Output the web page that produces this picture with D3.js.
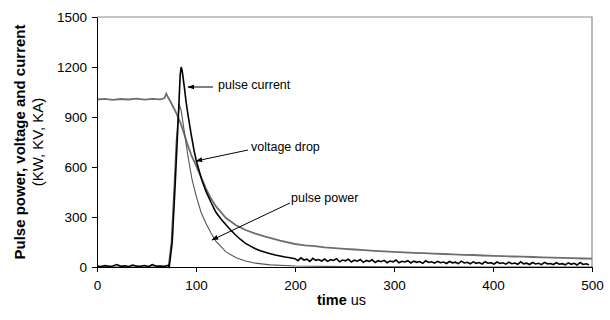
<!DOCTYPE html>
<html>
<head>
<meta charset="utf-8">
<script src="https://cdn.jsdelivr.net/npm/d3@7"></script>
<style>
  body { margin: 0; background: #fff; }
  svg { font-family: "Liberation Sans", Arial, sans-serif; }
  .axis path, .axis line { stroke: #000; }
  .axis text { font-size: 13.5px; fill: #000; font-family: "Liberation Sans", Arial, sans-serif; }
  .note { font-size: 12.5px; fill: #000; }
</style>
</head>
<body>
<svg id="chart" width="610" height="320"></svg>
<script>
// time (us) and values
var xTicks = [0, 100, 200, 300, 400, 500];
var yTicks = [0, 300, 600, 900, 1200, 1500];

var voltageT = [0, 8, 16, 24, 32, 40, 48, 56, 64, 68, 70, 72, 74, 77, 80, 84, 88, 92, 96, 100, 105, 110, 115, 120, 130, 140, 150, 160, 170, 185,
  200, 210, 220, 230, 240, 250, 260, 270, 280, 290, 300, 310, 320, 330, 340, 350, 360, 370, 380, 390, 400, 410, 420, 430, 440, 450, 460, 470, 480, 490, 500];
var voltageV = [1005, 1009, 1003, 1008, 1005, 1010, 1004, 1009, 1006, 1012, 1040, 1015, 995, 960, 925, 870, 800, 725, 660, 610, 540, 472, 412, 365, 295, 252, 222, 200, 182, 158,
  138, 130, 125, 118, 113, 109, 105, 101, 97, 94, 91, 88, 85, 83, 80, 78, 76, 73, 72, 69, 67, 65, 63, 62, 60, 58, 56, 55, 53, 51, 50];

var currentT = [0, 4, 8, 12, 16, 20, 24, 28, 32, 36, 40, 44, 48, 52, 56, 60, 64, 68, 72, 73, 76, 79, 82, 84, 85, 86, 88, 90, 92, 95, 98, 100, 103, 106, 110, 115,
  120, 125, 130, 135, 140, 145, 150, 155, 160, 165, 170, 175, 180, 185, 190, 195];
var currentV = [5, 3, 8, 4, 6, 15, 4, 7, 3, 12, 5, 4, 9, 3, 14, 5, 6, 4, 10, 2, 150, 500, 880, 1150, 1200, 1180, 1090, 990, 910, 800, 700, 645, 580, 520, 455, 390,
  330, 290, 255, 222, 192, 165, 142, 125, 110, 98, 88, 80, 72, 66, 60, 55];
// noisy tail, one value every 3 us from 200 us
var currentTail = [50, 38, 55, 42, 47, 33, 52, 40, 45, 36,
  48, 34, 44, 39, 50, 31, 42, 37, 46, 30,
  41, 35, 45, 28, 39, 33, 43, 27, 38, 32,
  40, 26, 36, 31, 42, 25, 34, 30, 38, 24,
  35, 28, 33, 22, 37, 27, 31, 23, 34, 26,
  30, 21, 33, 25, 29, 20, 35, 24, 28, 19,
  31, 22, 27, 18, 32, 23, 26, 17, 30, 21,
  25, 17, 29, 20, 24, 16, 31, 19, 23, 15,
  27, 18, 22, 14, 28, 19, 21, 15, 26, 17,
  20, 13, 25, 16, 22, 12, 27, 15, 19, 14];

var powerT = [0, 20, 40, 60, 72, 75, 78, 80, 83, 85, 88, 92, 96, 100, 105, 110, 115, 120, 130, 140, 150, 160, 175, 200, 250, 300, 400, 500];
var powerV = [0, 0, 0, 0, 0, 150, 500, 750, 975, 940, 820, 660, 525, 430, 330, 262, 205, 155, 92, 57, 36, 23, 13, 6, 2, 1, 0, 0];

var margin = {top: 17, right: 18, bottom: 53, left: 97};
var width = 610 - margin.left - margin.right;
var height = 320 - margin.top - margin.bottom;

var x = d3.scaleLinear().domain([0, 500]).range([0, width]);
var y = d3.scaleLinear().domain([0, 1500]).range([height, 0]);

var line = d3.line()
  .x(function(d) { return x(d[0]); })
  .y(function(d) { return y(d[1]); });

var svg = d3.select("#chart");
var chart = svg.append("g")
  .attr("transform", "translate(" + margin.left + "," + margin.top + ")");

// plot frame (top and right)
chart.append("path")
  .attr("d", "M0,0H" + width + "V" + height)
  .attr("fill", "none")
  .attr("stroke", "#8c8c8c")
  .attr("stroke-width", 1.2);

var voltage = d3.zip(voltageT, voltageV);
var current = d3.zip(currentT, currentV);
currentTail.forEach(function(v, i) { current.push([200 + i * 3, v]); });
var power = d3.zip(powerT, powerV);

chart.append("path").datum(voltage)
  .attr("d", line).attr("fill", "none")
  .attr("stroke", "#6e6e6e").attr("stroke-width", 1.8);

chart.append("path").datum(power)
  .attr("d", line).attr("fill", "none")
  .attr("stroke", "#555").attr("stroke-width", 1.1);

chart.append("path").datum(current)
  .attr("d", line).attr("fill", "none")
  .attr("stroke", "#000").attr("stroke-width", 1.6);

chart.append("g")
  .attr("class", "axis")
  .attr("transform", "translate(0," + height + ")")
  .call(d3.axisBottom(x).tickValues(xTicks).tickFormat(d3.format("d")).tickSize(5).tickSizeOuter(0).tickPadding(8));

chart.append("g")
  .attr("class", "axis")
  .call(d3.axisLeft(y).tickValues(yTicks).tickFormat(d3.format("d")).tickSize(5).tickSizeOuter(0).tickPadding(5));

// arrows and labels
svg.append("defs").append("marker")
  .attr("id", "arrow")
  .attr("viewBox", "0 0 10 10")
  .attr("refX", 9).attr("refY", 5)
  .attr("markerWidth", 7).attr("markerHeight", 7)
  .attr("orient", "auto")
  .append("path")
  .attr("d", "M0,1.5L10,5L0,8.5Z")
  .attr("fill", "#000");

var notes = [
  {text: "pulse current", tx: 218, ty: 89, from: [213, 87], to: [188, 87]},
  {text: "voltage drop", tx: 251, ty: 151, from: [248, 150], to: [196, 161]},
  {text: "pulse power", tx: 291, ty: 202, from: [290, 203], to: [212, 240]}
];

notes.forEach(function(n) {
  svg.append("line")
    .attr("x1", n.from[0]).attr("y1", n.from[1])
    .attr("x2", n.to[0]).attr("y2", n.to[1])
    .attr("stroke", "#000").attr("stroke-width", 1)
    .attr("marker-end", "url(#arrow)");
  svg.append("text")
    .attr("class", "note")
    .attr("x", n.tx).attr("y", n.ty)
    .text(n.text);
});

// axis titles
var xt = svg.append("text")
  .attr("x", margin.left + width / 2 - 3)
  .attr("y", 305)
  .attr("text-anchor", "middle")
  .style("font-size", "14.5px");
xt.append("tspan").style("font-weight", "bold").text("time");
xt.append("tspan").text(" us");

svg.append("text")
  .attr("transform", "translate(25," + (margin.top + height / 2) + ") rotate(-90)")
  .attr("text-anchor", "middle")
  .style("font-size", "15px")
  .style("font-weight", "bold")
  .text("Pulse power, voltage and current");

svg.append("text")
  .attr("transform", "translate(43," + (margin.top + height / 2) + ") rotate(-90)")
  .attr("text-anchor", "middle")
  .style("font-size", "15px")
  .text("(KW, KV, KA)");
</script>
</body>
</html>
